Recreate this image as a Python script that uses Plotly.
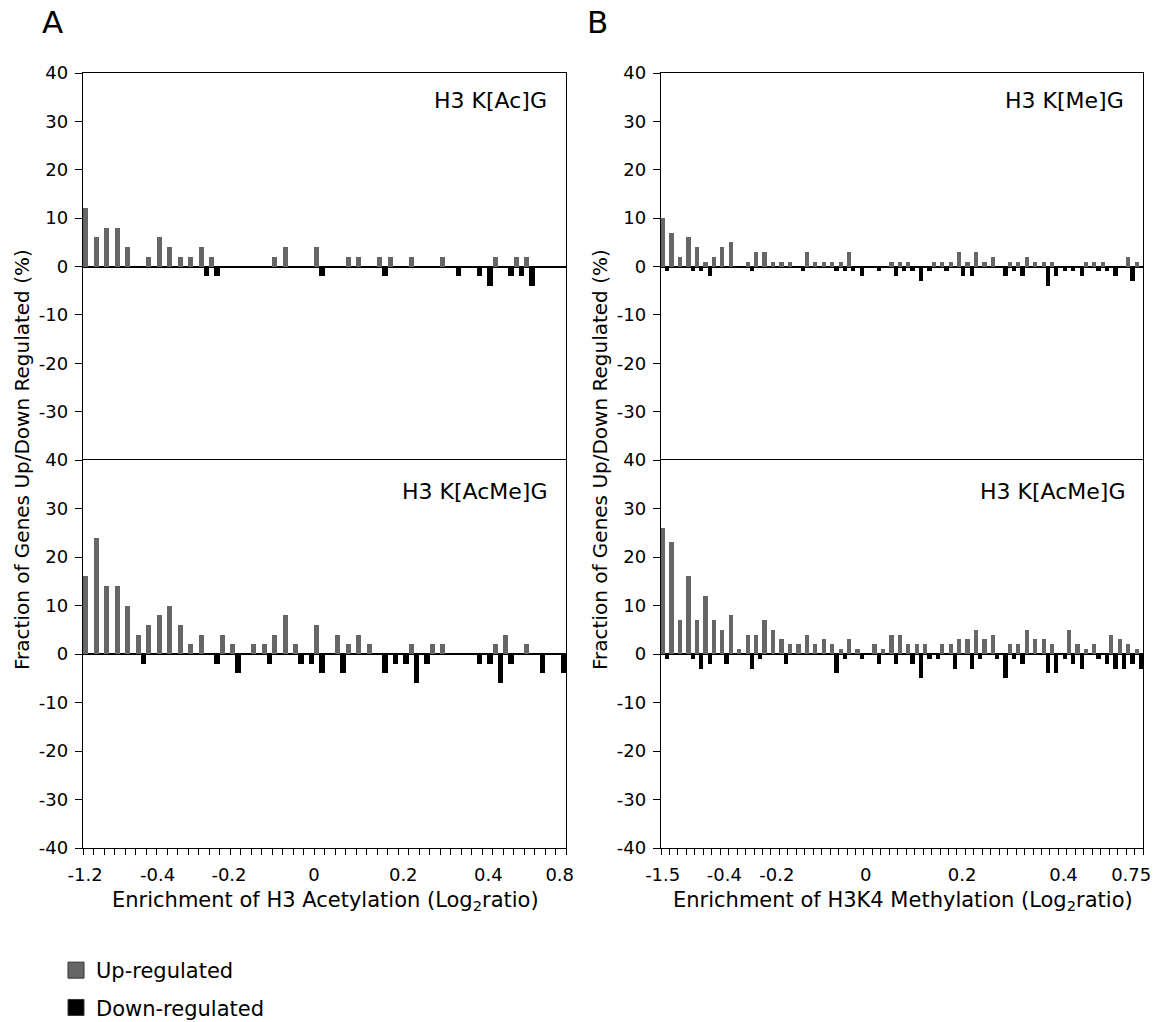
import plotly.graph_objects as go

# ---------------- data ----------------
A_tick_labels = ["-1.2", "-0.4", "-0.2", "0", "0.2", "0.4", "0.8"]
B_tick_labels = ["-1.5", "-0.4", "-0.2", "0", "0.2", "0.4", "0.75"]
A_tick_bins = [0.2, 7.1, 13.9, 22.0, 30.5, 38.6, 45.4]
B_tick_bins = [0.2, 7.5, 13.7, 24.2, 35.6, 47.6, 55.6]

# Panel A (46 bins), H3 K[Ac]G
a_top_up = [12, 6, 8, 8, 4, 0, 2, 6, 4, 2, 2, 4, 2, 0, 0, 0, 0, 0, 2, 4,
            0, 0, 4, 0, 0, 2, 2, 0, 2, 2, 0, 2, 0, 0, 2, 0, 0, 0, 0, 2,
            0, 2, 2, 0, 0, 0]
a_top_down = [0, 0, 0, 0, 0, 0, 0, 0, 0, 0, 0, -2, -2, 0, 0, 0, 0, 0, 0, 0,
              0, 0, -2, 0, 0, 0, 0, 0, -2, 0, 0, 0, 0, 0, 0, -2, 0, -2, -4, 0,
              -2, -2, -4, 0, 0, 0]
# Panel A, H3 K[AcMe]G
a_bot_up = [16, 24, 14, 14, 10, 4, 6, 8, 10, 6, 2, 4, 0, 4, 2, 0, 2, 2, 4, 8,
            2, 0, 6, 0, 4, 2, 4, 2, 0, 0, 0, 2, 0, 2, 2, 0, 0, 0, 0, 2,
            4, 0, 2, 0, 0, 0]
a_bot_down = [0, 0, 0, 0, 0, -2, 0, 0, 0, 0, 0, 0, -2, 0, -4, 0, 0, -2, 0, 0,
              -2, -2, -4, 0, -4, 0, 0, 0, -4, -2, -2, -6, -2, 0, 0, 0, 0, -2, -2, -6,
              -2, 0, 0, -4, 0, -4]

# Panel B (57 bins), H3 K[Me]G
b_top_up = [10, 7, 2, 6, 4, 1, 2, 4, 5, 0, 1, 3, 3, 1, 1, 1, 0, 3, 1, 1,
            1, 1, 3, 0, 0, 0, 0, 1, 1, 1, 0, 0, 1, 1, 1, 3, 1, 3, 1, 2,
            0, 1, 1, 2, 1, 1, 1, 0, 0, 0, 1, 1, 1, 0, 0, 2, 1]
b_top_down = [-1, 0, 0, -1, -1, -2, 0, 0, 0, 0, -1, 0, 0, 0, 0, 0, -1, 0, 0, 0,
              -1, -1, -1, -2, 0, -1, 0, -2, -1, -1, -3, -1, 0, -1, 0, -2, -2, 0, 0, 0,
              -2, -1, -2, 0, 0, -4, -2, -1, -1, -2, 0, -1, -1, -2, 0, -3, 0]
# Panel B, H3 K[AcMe]G
b_bot_up = [26, 23, 7, 16, 7, 12, 7, 5, 8, 1, 4, 4, 7, 5, 3, 2, 2, 4, 2, 3,
            2, 1, 3, 1, 0, 2, 1, 4, 4, 2, 2, 2, 0, 2, 2, 3, 3, 5, 3, 4,
            0, 2, 2, 5, 3, 3, 2, 0, 5, 2, 1, 2, 0, 4, 3, 2, 1]
b_bot_down = [-1, 0, 0, -1, -3, -2, 0, -2, 0, 0, -3, -1, 0, 0, -2, 0, 0, 0, 0, 0,
              -4, -1, 0, -1, 0, -2, 0, -2, 0, -2, -5, -1, -1, 0, -3, 0, -3, -1, 0, -1,
              -5, -1, -2, 0, 0, -4, -4, -1, -2, -3, 0, -1, -2, -3, -3, -2, -3]

panel_titles = ["H3 K[Ac]G", "H3 K[AcMe]G", "H3 K[Me]G", "H3 K[AcMe]G"]
series_names = ["Up-regulated", "Down-regulated"]
y_title = "Fraction of Genes Up/Down Regulated (%)"
x_titles = ["Enrichment of H3 Acetylation (Log<sub>2</sub>ratio)",
            "Enrichment of H3K4 Methylation (Log<sub>2</sub>ratio)"]

# ---------------- style ----------------
W, H = 1163, 1022
FONT = "DejaVu Sans, Liberation Sans, Arial, sans-serif"
UP_COLOR = "#666666"
DOWN_COLOR = "#000000"
LW = 1.3

def px_x(x):
    return x / W

def px_y(y):
    return 1 - y / H

A_dom = [px_x(83), px_x(566)]
B_dom = [px_x(661), px_x(1143)]
TOP_dom = [px_y(460), px_y(73)]
BOT_dom = [px_y(848), px_y(460)]

fig = go.Figure()

panels = [
    ("x", "y", a_top_up, a_top_down, A_dom, TOP_dom, False, A_tick_labels, A_tick_bins, "x5"),
    ("x2", "y2", a_bot_up, a_bot_down, A_dom, BOT_dom, True, A_tick_labels, A_tick_bins, "x5"),
    ("x3", "y3", b_top_up, b_top_down, B_dom, TOP_dom, False, B_tick_labels, B_tick_bins, "x6"),
    ("x4", "y4", b_bot_up, b_bot_down, B_dom, BOT_dom, True, B_tick_labels, B_tick_bins, "x6"),
]

def akey(prefix, ax):
    return prefix if len(ax) == 1 else prefix + ax[1:]

for xa, ya, up, down, xdom, ydom, is_bottom, tlabels, tbins, lab_ax in panels:
    n = len(up)
    centers = [i + 0.5 for i in range(n)]
    fig.add_trace(go.Bar(x=centers, y=up, name=series_names[0], marker_color=UP_COLOR,
                         marker_line_width=0, xaxis=xa, yaxis=ya, showlegend=False,
                         offsetgroup="up"))
    fig.add_trace(go.Bar(x=centers, y=down, name=series_names[1], marker_color=DOWN_COLOR,
                         marker_line_width=0, xaxis=xa, yaxis=ya, showlegend=False,
                         offsetgroup="down"))

    xaxis = dict(domain=xdom, anchor=ya, range=[0, n], showgrid=False, zeroline=False,
                 showline=True, linecolor="black", linewidth=LW,
                 fixedrange=True, automargin=False)
    if is_bottom:
        # bin-boundary tick marks on the primary axis, labels on an overlay axis
        xaxis.update(side="bottom", mirror=True, tickmode="linear", tick0=0, dtick=1,
                     ticks="outside", ticklen=6, tickwidth=1, tickcolor="black",
                     showticklabels=False)
        fig.update_layout(**{akey("xaxis", lab_ax): dict(
            overlaying=xa, anchor=ya, range=[0, n], side="bottom",
            showgrid=False, zeroline=False, showline=False,
            tickmode="array", tickvals=tbins, ticktext=tlabels,
            ticks="outside", ticklen=10, tickcolor="rgba(0,0,0,0)",
            tickfont=dict(family=FONT, size=18, color="black"),
            fixedrange=True, automargin=False)})
        fig.add_trace(go.Scatter(x=[None], y=[None], xaxis=lab_ax, yaxis=ya,
                                 showlegend=False, hoverinfo="skip", mode="markers"))
    else:
        xaxis.update(side="top", mirror=False, showticklabels=False, ticks="")
    yvals = [40, 30, 20, 10, 0, -10, -20, -30, -40] if is_bottom else [40, 30, 20, 10, 0, -10, -20, -30]
    yaxis = dict(domain=ydom, anchor=xa, range=[-40, 40], showgrid=False,
                 zeroline=True, zerolinecolor="black", zerolinewidth=1.5,
                 showline=True, mirror=True, linecolor="black", linewidth=LW,
                 tickmode="array", tickvals=yvals, ticktext=[str(v) for v in yvals],
                 ticks="outside", ticklen=7, tickwidth=1, tickcolor="black",
                 ticklabelstandoff=3,
                 tickfont=dict(family=FONT, size=18, color="black"),
                 fixedrange=True, automargin=False)
    fig.update_layout(**{akey("xaxis", xa): xaxis, akey("yaxis", ya): yaxis})

# legend entries (square swatches)
for name, col, grp in zip(series_names, [UP_COLOR, DOWN_COLOR], ["up", "down"]):
    fig.add_trace(go.Scatter(x=[None], y=[None], mode="markers", name=name,
                             legendgroup=grp,
                             marker=dict(symbol="square", size=20, color=col,
                                         line=dict(width=1, color="#333333")),
                             xaxis="x", yaxis="y", showlegend=True))

annotations = []
for (txt, xr, yc) in [(panel_titles[0], 549, 100), (panel_titles[1], 549, 491),
                      (panel_titles[2], 1126, 100), (panel_titles[3], 1127, 491)]:
    annotations.append(dict(text=txt, x=px_x(xr), y=px_y(yc), xref="paper", yref="paper",
                            xanchor="right", yanchor="middle", showarrow=False,
                            font=dict(family=FONT, size=22, color="black")))
for (txt, xc, yc) in [("A", 52, 22), ("B", 597, 22)]:
    annotations.append(dict(text=txt, x=px_x(xc), y=px_y(yc), xref="paper", yref="paper",
                            xanchor="center", yanchor="middle", showarrow=False,
                            font=dict(family=FONT, size=31, color="black")))
for xc in (22, 600):
    annotations.append(dict(text=y_title, x=px_x(xc),
                            y=px_y(460), xref="paper", yref="paper", textangle=-90,
                            xanchor="center", yanchor="middle", showarrow=False,
                            font=dict(family=FONT, size=20, color="black")))
for (txt, xc) in zip(x_titles, [325, 903]):
    annotations.append(dict(text=txt, x=px_x(xc), y=px_y(901), xref="paper", yref="paper",
                            xanchor="center", yanchor="middle", showarrow=False,
                            font=dict(family=FONT, size=21, color="black")))

fig.update_layout(
    width=W, height=H, autosize=False,
    margin=dict(l=0, r=0, t=0, b=0, autoexpand=False),
    paper_bgcolor="white", plot_bgcolor="white",
    barmode="group", bargap=0, bargroupgap=0,
    annotations=annotations,
    showlegend=True,
    legend=dict(x=px_x(56), y=px_y(950), xanchor="left", yanchor="top",
                orientation="v", font=dict(family=FONT, size=21, color="black"),
                bgcolor="rgba(0,0,0,0)", tracegroupgap=7, itemsizing="trace"),
)

fig.write_html("out.html")
